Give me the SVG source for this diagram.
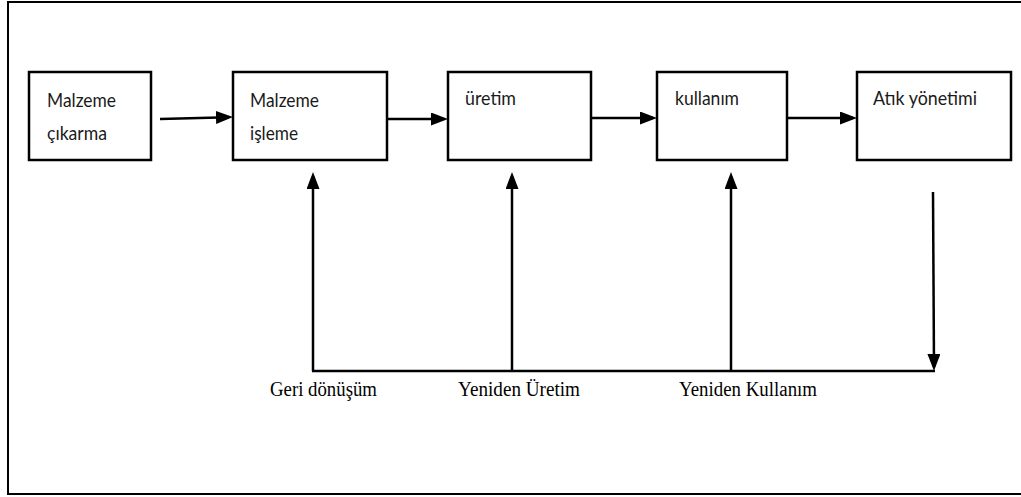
<svg xmlns="http://www.w3.org/2000/svg" width="1021" height="497" viewBox="0 0 1021 497">
  <style>
    .box { fill: #ffffff; stroke: #000000; stroke-width: 2.5; }
    .lbl { font-family: "Lato", "Liberation Sans", sans-serif; font-size: 20px; fill: #1a1a1a; }
    .cap { font-family: "Liberation Serif", "Times New Roman", serif; font-size: 20px; fill: #000000; }
    .conn { fill: none; stroke: #000000; stroke-width: 2.5; }
    .arr { marker-end: url(#ah); }
  </style>
  <defs>
    <marker id="ah" markerUnits="userSpaceOnUse" markerWidth="17" markerHeight="13" refX="13" refY="6.5" orient="auto">
      <path d="M0,0 L17,6.5 L0,13 z" fill="#000000"/>
    </marker>
  </defs>
  <rect x="0" y="0" width="1021" height="497" fill="#ffffff"/>
  <rect id="frame" x="8" y="2" width="1020" height="492" fill="none" stroke="#000000" stroke-width="2"/>

  <g id="node-malzeme-cikarma">
    <rect class="box" x="29" y="72" width="122" height="88"/>
    <text class="lbl" x="47" y="107" textLength="69" lengthAdjust="spacingAndGlyphs">Malzeme</text>
    <text class="lbl" x="47" y="140" textLength="60" lengthAdjust="spacingAndGlyphs">çıkarma</text>
  </g>
  <g id="node-malzeme-isleme">
    <rect class="box" x="233" y="72" width="154" height="88"/>
    <text class="lbl" x="250" y="107" textLength="69" lengthAdjust="spacingAndGlyphs">Malzeme</text>
    <text class="lbl" x="250" y="140" textLength="48" lengthAdjust="spacingAndGlyphs">işleme</text>
  </g>
  <g id="node-uretim">
    <rect class="box" x="448" y="72" width="143" height="88"/>
    <text class="lbl" x="465" y="105" textLength="51" lengthAdjust="spacingAndGlyphs">üretim</text>
  </g>
  <g id="node-kullanim">
    <rect class="box" x="657" y="72" width="130" height="88"/>
    <text class="lbl" x="675" y="105" textLength="64" lengthAdjust="spacingAndGlyphs">kullanım</text>
  </g>
  <g id="node-atik-yonetimi">
    <rect class="box" x="857" y="72" width="154" height="88"/>
    <text class="lbl" x="873" y="105" textLength="104" lengthAdjust="spacingAndGlyphs">Atık yönetimi</text>
  </g>

  <g id="connectors">
    <line class="conn arr" x1="160" y1="119" x2="229" y2="117.2"/>
    <line class="conn arr" x1="387" y1="119" x2="444" y2="119"/>
    <line class="conn arr" x1="591" y1="118" x2="653" y2="118"/>
    <line class="conn arr" x1="787" y1="118" x2="853" y2="118"/>
    <line class="conn arr" x1="313" y1="371" x2="313" y2="176"/>
    <line class="conn arr" x1="512" y1="371" x2="512" y2="176"/>
    <line class="conn arr" x1="731" y1="371" x2="731" y2="176"/>
    <line class="conn arr" x1="933" y1="192" x2="934" y2="367"/>
    <line class="conn" x1="312" y1="371" x2="935" y2="371"/>
  </g>

  <g id="labels">
    <text class="cap" x="270" y="396" textLength="107" lengthAdjust="spacingAndGlyphs">Geri dönüşüm</text>
    <text class="cap" x="458" y="396" textLength="122" lengthAdjust="spacingAndGlyphs">Yeniden Üretim</text>
    <text class="cap" x="679" y="396" textLength="138" lengthAdjust="spacingAndGlyphs">Yeniden Kullanım</text>
  </g>
</svg>
